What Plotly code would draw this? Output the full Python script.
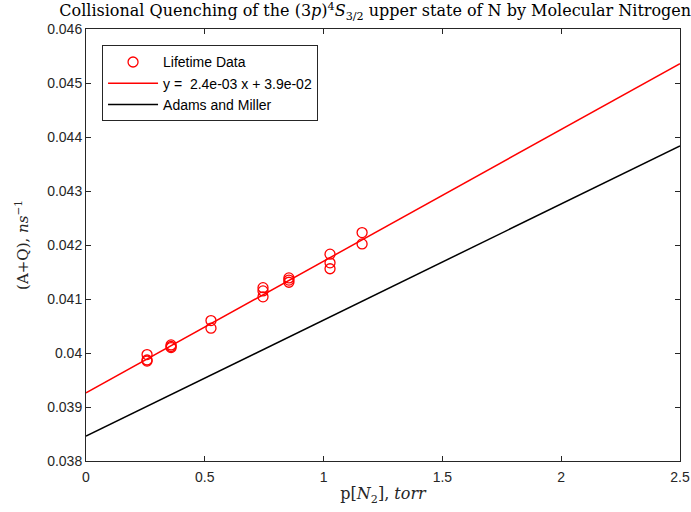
import plotly.graph_objects as go

# Measured lifetime data: N2 pressure (torr) vs. total decay rate A+Q (1/ns)
pressure = [0.257, 0.257, 0.257,
            0.358, 0.358, 0.358,
            0.526, 0.526,
            0.745, 0.745, 0.745,
            0.854, 0.854, 0.854,
            1.027, 1.027, 1.027,
            1.162, 1.162]
decay_rate = [0.03997, 0.03987, 0.03985,
              0.04015, 0.04012, 0.04010,
              0.04060, 0.04046,
              0.04121, 0.04115, 0.04104,
              0.04139, 0.04135, 0.04131,
              0.04183, 0.04167, 0.04156,
              0.04223, 0.04202]

# Linear fit coefficients (slope, intercept)
fit_slope = 0.00244
fit_intercept = 0.03926

# Adams and Miller reference line (slope, intercept)
am_slope = 0.00215
am_intercept = 0.03846

line_x = [0.0, 2.5]

serif = "DejaVu Serif"
sans = "Liberation Sans"
axis_col = "#262626"

fig = go.Figure()
fig.add_trace(go.Scatter(
    x=pressure, y=decay_rate, mode="markers", name="Lifetime Data",
    marker=dict(symbol="circle-open", size=10, color="#ff0000",
                line=dict(width=1.3, color="#ff0000")),
))
fig.add_trace(go.Scatter(
    x=line_x, y=[fit_slope * x + fit_intercept for x in line_x], mode="lines",
    name=f"y =\u00a0\u00a0{fit_slope:.1e} x + {fit_intercept:.1e}",
    line=dict(color="#ff0000", width=1.5),
))
fig.add_trace(go.Scatter(
    x=line_x, y=[am_slope * x + am_intercept for x in line_x], mode="lines",
    name="Adams and Miller",
    line=dict(color="#000000", width=1.5),
))

axis_common = dict(
    showline=True, linecolor=axis_col, linewidth=1, mirror="ticks",
    ticks="inside", ticklen=5, tickcolor=axis_col, tickwidth=1,
    showgrid=False, zeroline=False, automargin=False,
    tickfont=dict(family=sans, size=14, color=axis_col),
)

fig.update_layout(
    width=691, height=512,
    margin=dict(l=86, r=11, t=29, b=51),
    paper_bgcolor="white", plot_bgcolor="white",
    title=dict(
        text="Collisional Quenching of the (3<i>p</i>)<sup>4</sup><i>S</i><sub>3/2</sub> upper state of N by Molecular Nitrogen",
        font=dict(family=serif, size=16, color="#000000"),
        x=0.543, xanchor="center", y=0.99, yanchor="top",
    ),
    xaxis=dict(range=[0, 2.5], tickvals=[0, 0.5, 1, 1.5, 2, 2.5],
               ticktext=["0", "0.5", "1", "1.5", "2", "2.5"],
               ticklabelstandoff=3,
               title=dict(text="p[<i>N</i><sub>2</sub>], <i>torr</i>",
                          font=dict(family=serif, size=16, color=axis_col),
                          standoff=4),
               **axis_common),
    yaxis=dict(range=[0.038, 0.046],
               tickvals=[0.038, 0.039, 0.040, 0.041, 0.042, 0.043, 0.044, 0.045, 0.046],
               ticktext=["0.038", "0.039", "0.04", "0.041", "0.042", "0.043", "0.044", "0.045", "0.046"],
               title=dict(text="(A+Q), <i>ns</i><sup>−1</sup>",
                          font=dict(family=serif, size=15, color=axis_col),
                          standoff=14),
               **axis_common),
    legend=dict(
        x=0.027, y=0.962, xanchor="left", yanchor="top",
        bgcolor="white", bordercolor=axis_col, borderwidth=1,
        font=dict(family=sans, size=14, color="#000000"),
        itemwidth=50, tracegroupgap=0,
    ),
    showlegend=True,
)

fig.write_html("out.html")
